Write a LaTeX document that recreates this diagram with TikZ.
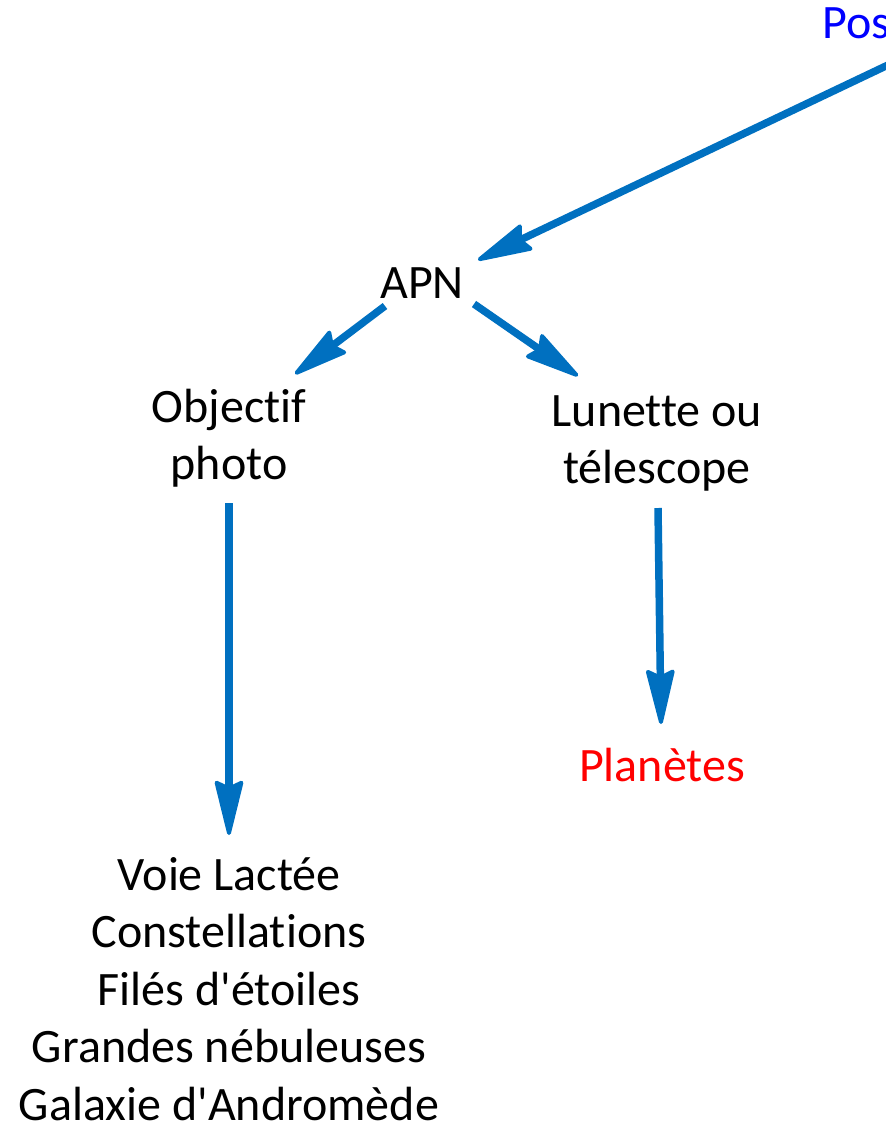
\documentclass[tikz,border=0pt]{standalone}
\usepackage{fontspec}
\setmainfont{Carlito}[Ligatures={TeXOff,CommonOff}]
\usetikzlibrary{arrows.meta}
\definecolor{arrowblue}{RGB}{0,112,192}
\definecolor{posblue}{RGB}{0,0,255}
\definecolor{pred}{RGB}{255,0,0}
\begin{document}
\begin{tikzpicture}[x=1bp,y=-1bp,
  lbl/.style={inner sep=0pt, anchor=base, align=center,
    font=\fontsize{48bp}{57.5bp}\selectfont},
  conn/.style={draw=arrowblue, line width=7.5bp,
    -{Stealth[length=62bp,width=30bp,inset=7bp,round,line width=4bp]}}]
\useasboundingbox (0,0) rectangle (886,1125);
\clip (0,0) rectangle (886,1125);
% texts (base anchor = baseline of the last line)
\node[lbl, anchor=base west, text=posblue] (pos) at (822,38) {Pos};
\node[lbl] (apn) at (422,298) {APN};
\node[lbl] (obj) at (229,479.5) {Objectif\\photo};
\node[lbl] (lun) at (657,483.5) {Lunette ou\\télescope};
\node[lbl, text=pred] (pla) at (662,781) {Planètes};
\node[lbl] (cibles) at (229,1120) {Voie Lactée\\Constellations\\Filés d'étoiles\\Grandes nébuleuses\\Galaxie d'Andromède};
% connector ends
\coordinate (pos-out) at (900,59.3);
\coordinate (apn-in)  at (478,260);
\coordinate (apn-outl) at (385,306);
\coordinate (obj-in)  at (295,374);
\coordinate (apn-outr) at (474,304);
\coordinate (lun-in)  at (578,376);
\coordinate (obj-out) at (229,503);
\coordinate (cib-in)  at (229,835);
\coordinate (lun-out) at (658,508);
\coordinate (pla-in)  at (661,724);
% connectors
\draw[conn] (pos-out) -- (apn-in);
\draw[conn] (apn-outl) -- (obj-in);
\draw[conn] (apn-outr) -- (lun-in);
\draw[conn] (obj-out) -- (cib-in);
\draw[conn] (lun-out) -- (pla-in);
\end{tikzpicture}
\end{document}
